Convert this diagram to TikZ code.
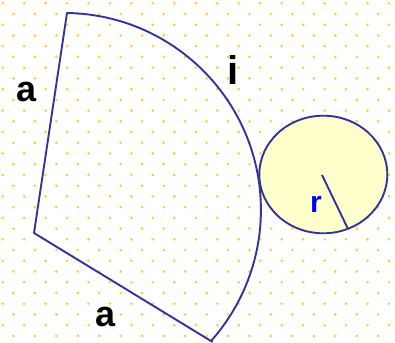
\documentclass[tikz,border=0pt]{standalone}
\usepackage{fontspec}
\setmainfont{Liberation Sans}
\definecolor{edgecol}{RGB}{51,51,153}
\definecolor{dotcol}{RGB}{255,204,51}
\definecolor{diskcol}{RGB}{255,255,204}
\definecolor{rcol}{RGB}{0,0,255}
\begin{document}
\begin{tikzpicture}[x=1pt,y=1pt,
  edgeline/.style={draw=edgecol,line width=1.9pt,line join=round},
  lbl/.style={inner sep=0pt,anchor=base,font=\fontsize{36}{36}\selectfont\bfseries}]
\useasboundingbox (0,0) rectangle (395,342);
\fill[white] (0,0) rectangle (395,342);
\clip (0,0) rectangle (395,342);
% dotted background
\foreach \j in {0,...,32}{
  \foreach \i in {0,...,37}{
    \pgfmathtruncatemacro\s{mod(\i+\j,2)}
    \ifnum\s=0
      \fill[dotcol] ({2.7+10.73*\i},{342-3.3-10.73*\j}) circle[radius=1.45];
    \fi
  }
}
% sector
\coordinate (A) at (34,109);
\coordinate (T) at (67,329);
\coordinate (B) at (212.6,0);
\draw[edgeline] (B) -- (A) -- (T) arc[start angle=89.1, end angle=-42, radius=197];
% circle
\coordinate (O) at (322,167);
\coordinate (P) at (347.7,113.7);
\draw[edgeline,fill=diskcol] (323.3,167.5) ellipse[x radius=64, y radius=58.8];
\draw[edgeline] (O) -- (P);
% labels
\node[lbl] (a1) at (26.2,240.6) {a};
\node[lbl] (a2) at (105.5,15.6) {a};
\node[lbl,font=\fontsize{40}{40}\selectfont\bfseries] (i1) at (232.8,257.7) {i};
\node[lbl,font=\fontsize{30}{30}\selectfont\bfseries,text=rcol] (r1) at (316,129.7) {r};
\end{tikzpicture}
\end{document}
